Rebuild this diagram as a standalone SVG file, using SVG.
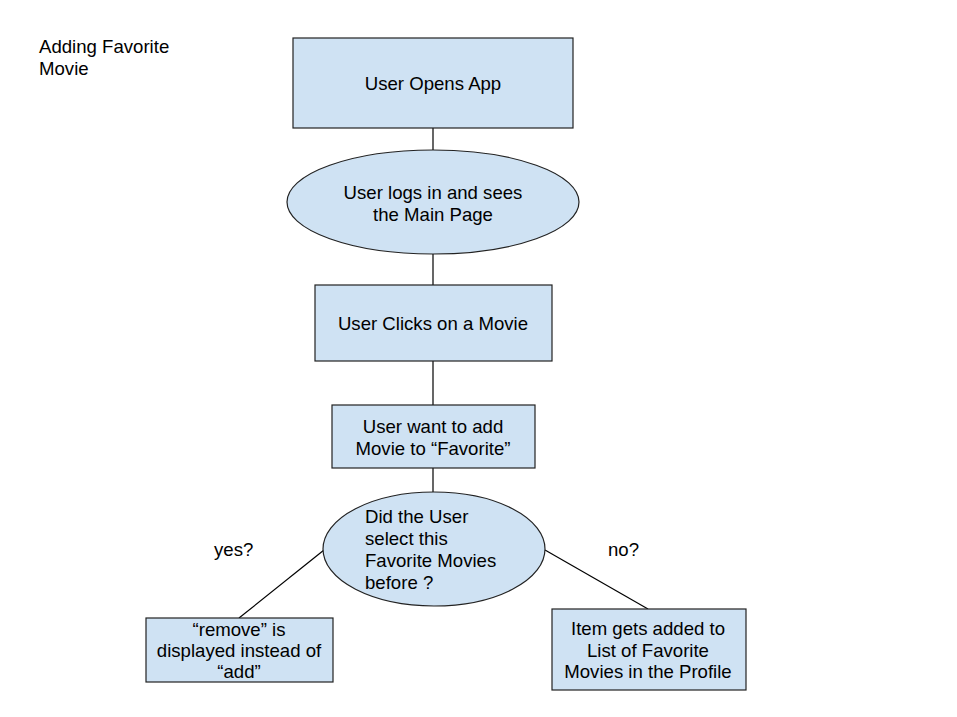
<svg xmlns="http://www.w3.org/2000/svg" width="957" height="717" viewBox="0 0 957 717">
<style>
.n{fill:#cfe2f3;stroke:#222;stroke-width:1.2}
.t{font-family:"Liberation Sans",Arial,sans-serif;font-size:18.6px;fill:#000}
.c{text-anchor:middle}
.e{stroke:#000;stroke-width:1.2;fill:none}
</style>
<rect width="957" height="717" fill="#fff"/>
<text class="t" x="39" y="53">Adding Favorite</text>
<text class="t" x="39" y="75">Movie</text>
<g id="connectors">
<line class="e" x1="433" y1="128" x2="433" y2="150"/>
<line class="e" x1="433" y1="254" x2="433" y2="285"/>
<line class="e" x1="433" y1="361" x2="433" y2="405"/>
<line class="e" x1="433" y1="468" x2="433" y2="492"/>
<line class="e" x1="324" y1="550" x2="239" y2="618"/>
<line class="e" x1="545" y1="550" x2="648" y2="609"/>
</g>
<g id="n1"><rect class="n" x="293" y="38" width="280" height="90"/><text class="t c" x="433" y="90">User Opens App</text></g>
<g id="n2"><ellipse class="n" cx="433" cy="202" rx="146" ry="52"/><text class="t c" x="433" y="199">User logs in and sees</text><text class="t c" x="433" y="221">the Main Page</text></g>
<g id="n3"><rect class="n" x="315" y="285" width="237" height="76"/><text class="t c" x="433" y="330">User Clicks on a Movie</text></g>
<g id="n4"><rect class="n" x="332" y="405" width="203" height="63"/><text class="t c" x="433" y="433">User want to add</text><text class="t c" x="433" y="455">Movie to “Favorite”</text></g>
<g id="n5"><ellipse class="n" cx="434" cy="549" rx="111" ry="57"/><text class="t" x="365" y="523">Did the User</text><text class="t" x="365" y="545">select this</text><text class="t" x="365" y="567">Favorite Movies</text><text class="t" x="365" y="589">before ?</text></g>
<g id="l1"><text class="t" x="214" y="556">yes?</text></g>
<g id="l2"><text class="t" x="608" y="556">no?</text></g>
<g id="n6"><rect class="n" x="146" y="618" width="187" height="64"/><text class="t c" x="239" y="636">“remove” is</text><text class="t c" x="239" y="657">displayed instead of</text><text class="t c" x="239" y="678">“add”</text></g>
<g id="n7"><rect class="n" x="552" y="609" width="194" height="81"/><text class="t c" x="648" y="635">Item gets added to</text><text class="t c" x="648" y="657">List of Favorite</text><text class="t c" x="648" y="678">Movies in the Profile</text></g>
</svg>
